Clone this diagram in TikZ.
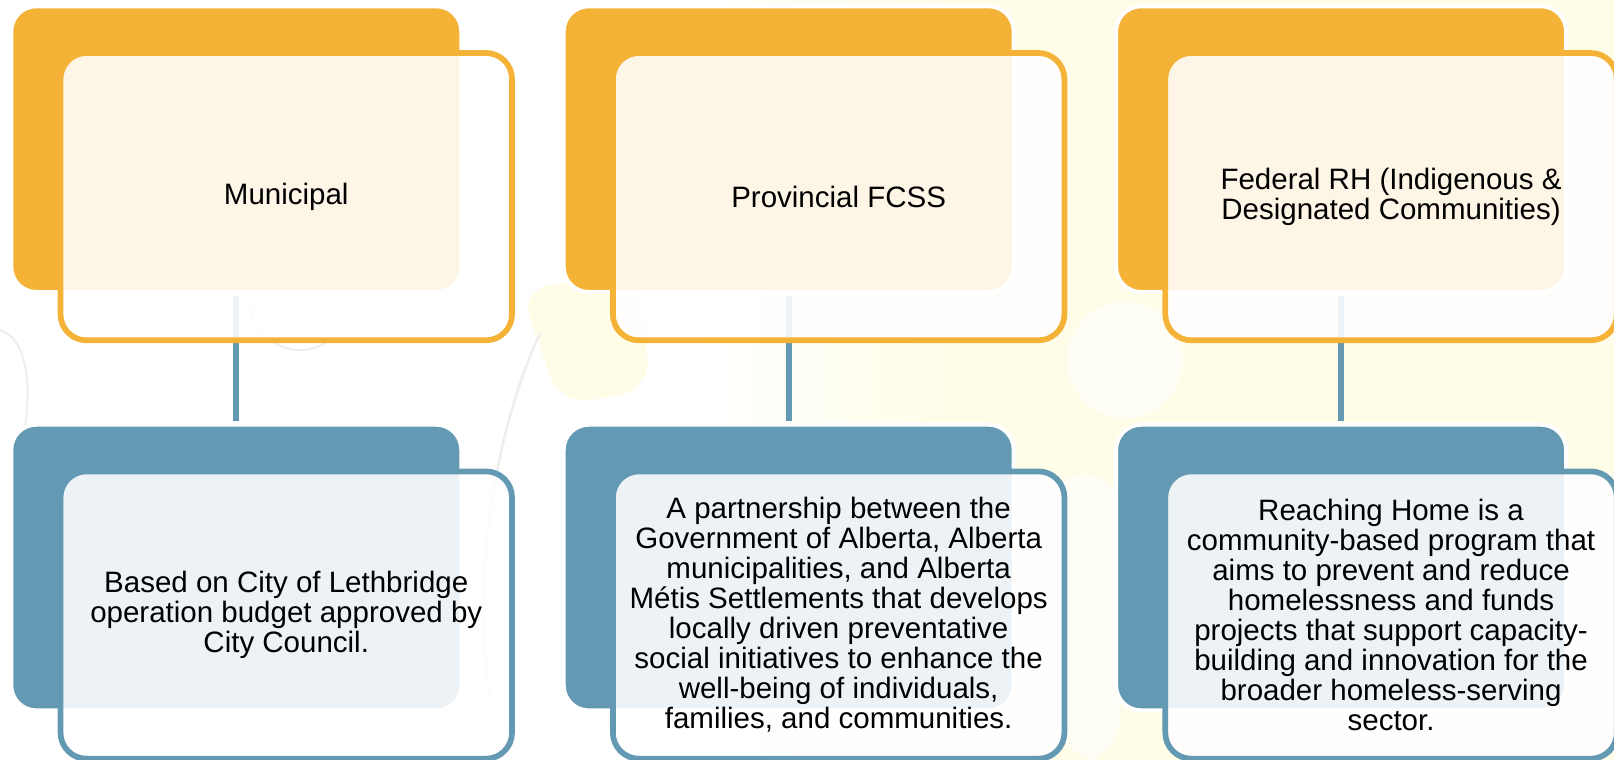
\documentclass[tikz,border=0pt]{standalone}
\usepackage{fontspec}
\setmainfont{Liberation Sans}
\definecolor{fundorange}{HTML}{F4B336}
\definecolor{fundblue}{HTML}{6399B2}
\definecolor{puzzleyellow}{HTML}{FFFDE8}
\definecolor{puzzlegrey}{HTML}{EEEEEE}

\begin{document}
\begin{tikzpicture}[x=1pt,y=-1pt,
    backbox/.style={draw=white, line width=4pt, outer sep=0pt, inner sep=0pt,
        rounded corners=25pt, minimum width=450pt, minimum height=285.7pt},
    frontbox/.style={draw=#1, line width=5.7pt, fill=white, fill opacity=.88, text opacity=1,
        rounded corners=26pt, minimum width=451.5pt, minimum height=287.3pt, inner sep=0pt,
        align=center, font=\fontsize{29.5}{30}\selectfont},
    link/.style={draw=fundblue, line width=5.7pt}]
    \useasboundingbox (0,0) rectangle (1614,760);
    \clip (0,0) rectangle (1614,760);

    % faint puzzle pieces behind the chart
    \fill[white] (0,0) rectangle (1614,760);
    \shade[left color=white, right color=puzzleyellow] (700,0) rectangle (950,760);
    \fill[puzzleyellow] (950,0) rectangle (1614,760);
    \fill[puzzleyellow, rounded corners=30pt] (520,290) -- (640,270) -- (650,390) -- (560,405) -- cycle;
    \fill[white!60!puzzleyellow] (1125,360) circle[radius=58pt];
    \fill[white!60!puzzleyellow, rounded corners=40pt] (1040,480) -- (1120,470) -- (1120,760) -- (1060,760) -- cycle;
    \draw[puzzlegrey, line width=2.5pt] (540,333) .. controls (500,420) and (470,560) .. (490,700);
    \draw[puzzlegrey, line width=2pt] (250,300) arc[start angle=180, end angle=300, radius=50pt];
    \draw[puzzlegrey, line width=2pt] (0,330) .. controls (35,340) and (35,420) .. (10,480);

    % back cards and links
    \foreach \i in {0,1,2} {
        \node[backbox, fill=fundorange] (top\i) at ({236.3+552.4*\i},149.15) {};
        \node[backbox, fill=fundblue] (bot\i) at ({236.3+552.4*\i},567.55) {};
        \draw[link] ([yshift=-4pt]top\i.south) -- ([yshift=3.7pt]bot\i.north);
    }

    % front cards
    \node[frontbox=fundorange] (head0) at (286.25,196.65) {Municipal};
    \node[frontbox=fundorange] (head1) at (838.65,196.65) {Provincial FCSS};
    \node[frontbox=fundorange] (head2) at (1391.05,196.65) {Federal RH (Indigenous \&\\Designated Communities)};

    \node[frontbox=fundblue] (note0) at (286.25,615.05) {Based on City of Lethbridge\\operation budget approved by\\City Council.};
    \node[frontbox=fundblue] (note1) at (838.65,615.05) {A partnership between the\\Government of Alberta, Alberta\\municipalities, and Alberta\\Métis Settlements that develops\\locally driven preventative\\social initiatives to enhance the\\well-being of individuals,\\families, and communities.};
    \node[frontbox=fundblue] (note2) at (1391.05,615.05) {Reaching Home is a\\community-based program that\\aims to prevent and reduce\\homelessness and funds\\projects that support capacity-\\building and innovation for the\\broader homeless-serving\\sector.};
\end{tikzpicture}
\end{document}
